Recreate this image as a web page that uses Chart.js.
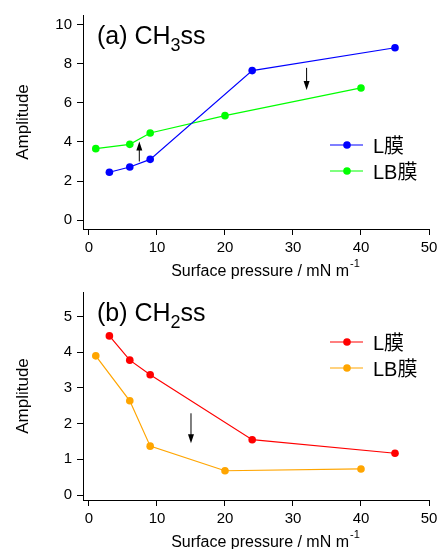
<!DOCTYPE html>
<html>
<head>
<meta charset="utf-8">
<script src="https://cdn.jsdelivr.net/npm/chart.js@4"></script>
<style>
  html, body { margin: 0; padding: 0; background: #fff; }
  canvas { position: absolute; left: 0; }
  #chartA { top: 0; }
  #chartB { top: 280px; }
</style>
</head>
<body>
<canvas id="chartA" width="441" height="280"></canvas>
<canvas id="chartB" width="441" height="269"></canvas>
<script>
// Surface pressure (mN/m) for each film
const pressureL = [3, 6, 9, 24, 45];
const pressureLB = [1, 6, 9, 20, 40];
// (a) CH3ss amplitude
const ch3L = [2.45, 2.72, 3.11, 7.66, 8.83];
const ch3LB = [3.66, 3.88, 4.46, 5.35, 6.77];
// (b) CH2ss amplitude
const ch2L = [4.46, 3.78, 3.37, 1.55, 1.17];
const ch2LB = [3.90, 2.64, 1.37, 0.68, 0.73];
const seriesNames = ['L膜', 'LB膜'];
// arrows drawn on the plots: [x, from y, to y]
const arrowsA = [[7.4, 3.0, 4.02], [32, 7.8, 6.67]];
const arrowsB = [[15, 2.29, 1.45]];

const FONT = "'Liberation Sans', Arial, 'Noto Sans CJK JP', sans-serif";

function points(xs, ys) {
    return xs.map((x, i) => ({ x: x, y: ys[i] }));
}

// Draws the panel title, the legend, the x title and the arrows
function makeDecor(cfg) {
    return {
        id: 'decor',
        afterDraw(chart) {
            const ctx = chart.ctx;
            const xs = chart.scales.x, ys = chart.scales.y;
            ctx.save();
            ctx.fillStyle = '#000';
            ctx.textBaseline = 'alphabetic';
            ctx.textAlign = 'left';

            // title, e.g. (a) CH3ss with subscript
            let tx = 97;
            cfg.title.forEach(p => {
                ctx.font = p[1] + 'px ' + FONT;
                ctx.fillText(p[0], tx, cfg.titleY + p[2]);
                tx += ctx.measureText(p[0]).width;
            });

            // legend: line with a dot, then the name
            cfg.colors.forEach((c, i) => {
                const ly = cfg.legendY + i * 26;
                ctx.strokeStyle = c;
                ctx.lineWidth = 1.2;
                ctx.beginPath();
                ctx.moveTo(330, ly);
                ctx.lineTo(363, ly);
                ctx.stroke();
                ctx.fillStyle = c;
                ctx.beginPath();
                ctx.arc(347, ly, 3.8, 0, Math.PI * 2);
                ctx.fill();
                ctx.fillStyle = '#000';
                ctx.font = '20px ' + FONT;
                ctx.fillText(seriesNames[i], 373, ly + 8);
            });

            // x axis title with superscript -1
            ctx.font = '16px ' + FONT;
            const main = 'Surface pressure / mN m';
            const w1 = ctx.measureText(main).width;
            ctx.font = '11px ' + FONT;
            const w2 = ctx.measureText('-1').width;
            const sx = 265 - (w1 + w2) / 2;
            ctx.font = '16px ' + FONT;
            ctx.fillText(main, sx, cfg.xTitleY);
            ctx.font = '11px ' + FONT;
            ctx.fillText('-1', sx + w1 + 1, cfg.xTitleY - 9);

            // arrows
            ctx.strokeStyle = '#000';
            ctx.lineWidth = 1;
            cfg.arrows.forEach(a => {
                const px = xs.getPixelForValue(a[0]);
                const y1 = ys.getPixelForValue(a[1]);
                const y2 = ys.getPixelForValue(a[2]);
                const dir = y2 > y1 ? 1 : -1;
                ctx.beginPath();
                ctx.moveTo(px, y1);
                ctx.lineTo(px, y2 - dir * 8);
                ctx.stroke();
                ctx.beginPath();
                ctx.moveTo(px, y2);
                ctx.lineTo(px - 3, y2 - dir * 9);
                ctx.lineTo(px + 3, y2 - dir * 9);
                ctx.closePath();
                ctx.fill();
            });
            ctx.restore();
        }
    };
}

function makeScales(yMin, yMax, yStep, xHeight) {
    return {
        x: {
            type: 'linear', min: -0.88, max: 50,
            ticks: { stepSize: 10, includeBounds: false, color: '#000', padding: 4, maxRotation: 0,
                     font: { family: FONT, size: 15 } },
            grid: { drawOnChartArea: false, tickLength: 6, color: '#000' },
            border: { color: '#000', width: 1 },
            afterFit: s => { s.height = xHeight; s.paddingLeft = 0; s.paddingRight = 0; }
        },
        y: {
            type: 'linear', min: yMin, max: yMax,
            ticks: { stepSize: yStep, includeBounds: false, color: '#000', padding: 5,
                     font: { family: FONT, size: 15 } },
            grid: { drawOnChartArea: false, tickLength: 6, color: '#000' },
            border: { color: '#000', width: 1 },
            title: { display: true, text: 'Amplitude', color: '#000',
                     font: { family: FONT, size: 17 }, padding: { top: 13, bottom: 0 } },
            afterFit: s => { s.width = 83; s.paddingTop = 0; s.paddingBottom = 0; }
        }
    };
}

function makeDataset(label, xs, ys, color) {
    return {
        label: label,
        data: points(xs, ys),
        showLine: true,
        borderColor: color,
        backgroundColor: color,
        borderWidth: 1.2,
        pointRadius: 3.8,
        pointBorderWidth: 0,
        pointBackgroundColor: color
    };
}

function renderChart(id, datasets, scales, padding, decor) {
    const ctx = document.getElementById(id).getContext('2d');
    return new Chart(ctx, {
        type: 'scatter',
        data: { datasets: datasets },
        options: {
            responsive: false,
            animation: false,
            layout: { padding: padding },
            plugins: { legend: { display: false }, tooltip: { enabled: false } },
            scales: scales
        },
        plugins: [makeDecor(decor)]
    });
}

renderChart('chartA',
    [makeDataset(seriesNames[0], pressureL, ch3L, '#0000ff'),
     makeDataset(seriesNames[1], pressureLB, ch3LB, '#00ff00')],
    makeScales(-0.46, 10.51, 2, 51),
    { top: 15, right: 12, left: 0, bottom: 0 },
    { title: [['(a) CH', 25, 0], ['3', 18, 7], ['ss', 25, 0]], titleY: 44,
      colors: ['#0000ff', '#00ff00'], legendY: 145, xTitleY: 276, arrows: arrowsA });

renderChart('chartB',
    [makeDataset(seriesNames[0], pressureL, ch2L, '#ff0000'),
     makeDataset(seriesNames[1], pressureLB, ch2LB, '#ffa500')],
    makeScales(-0.14, 5.69, 1, 49),
    { top: 12, right: 12, left: 0, bottom: 0 },
    { title: [['(b) CH', 25, 0], ['2', 18, 7], ['ss', 25, 0]], titleY: 41,
      colors: ['#ff0000', '#ffa500'], legendY: 62, xTitleY: 267, arrows: arrowsB });
</script>
</body>
</html>
